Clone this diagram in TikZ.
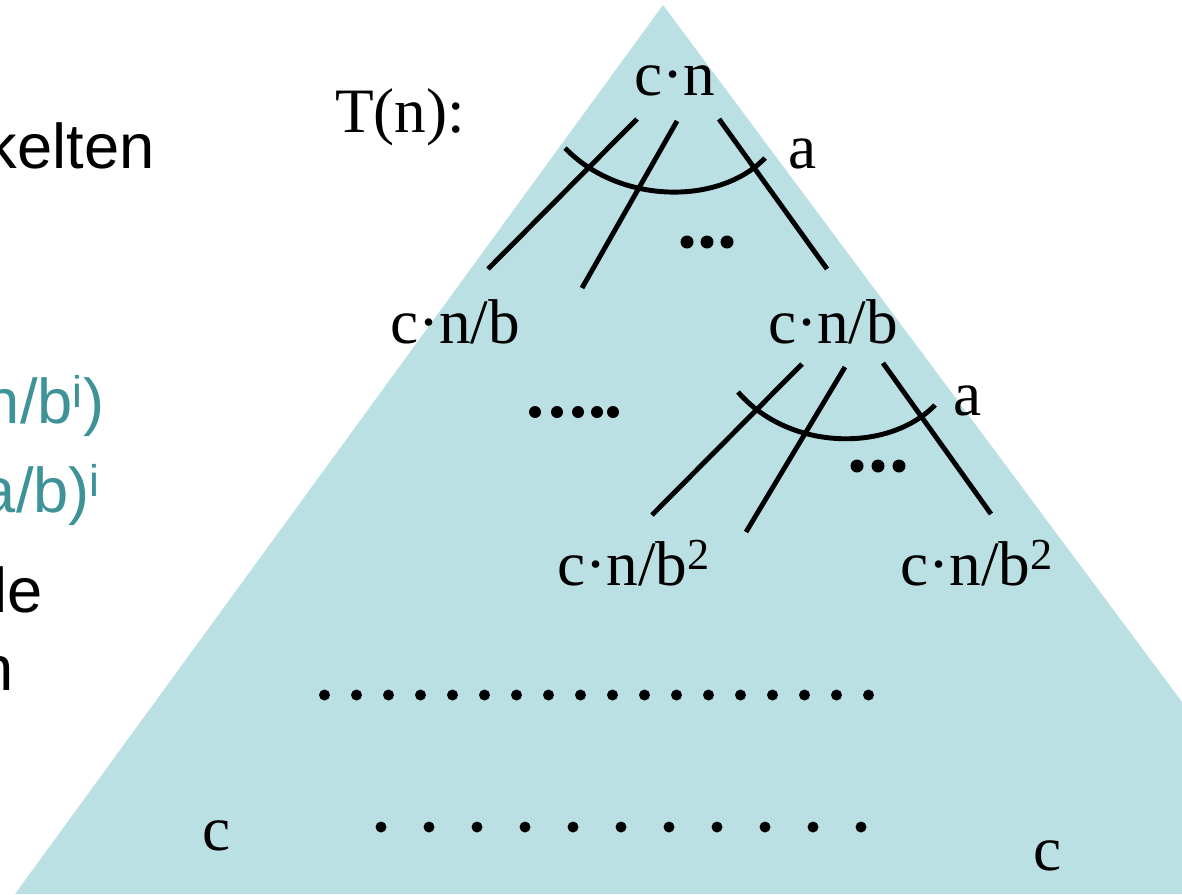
\documentclass[tikz,border=0pt]{standalone}
\usepackage{fontspec}
\setmainfont{Liberation Serif}
\setsansfont{Liberation Sans}
\usetikzlibrary{positioning}
\definecolor{paleblue}{HTML}{BBE0E3}
\definecolor{deepteal}{HTML}{3E9398}

\begin{document}
\begin{tikzpicture}[
    x=0.02cm, y=-0.02cm,
    lbl/.style={font=\fontsize{36}{40}\selectfont, inner sep=0pt, anchor=base},
    side/.style={font=\sffamily\fontsize{36}{40}\selectfont, inner sep=0pt, anchor=base east},
    branch/.style={line width=2.8pt},
    bigdot/.style={fill=black}
]
\useasboundingbox (0,0) rectangle (1182,894);
\fill[paleblue] (663,5) -- (15,894) -- (1325,894) -- cycle;

% cut-off text on the left
\node[side] (kelten) at (155,168) {kelten};
\node[side, text=deepteal] (nbi) at (105,423) {n/b\textsuperscript{i})};
\node[side, text=deepteal] (abi) at (101,512) {a/b)\textsuperscript{i}};
\node[side] (le) at (43,612) {le};
\node[side] (nn) at (14,690) {n};

% tree labels
\node[lbl] (tn) at (400,132) {T(n):};
\node[lbl] (root) at (675,95) {c·n};
\node[lbl] (a1) at (803,168) {a};
\node[lbl] (lvl1L) at (455,343) {c·n/b};
\node[lbl] (lvl1R) at (833,343) {c·n/b};
\node[lbl] (a2) at (968,415) {a};
\node[lbl] (lvl2L) at (634,585) {c·n/b\textsuperscript{2}};
\node[lbl] (lvl2R) at (977,585) {c·n/b\textsuperscript{2}};
\node[lbl] (leafL) at (217,850) {c};
\node[lbl] (leafR) at (1048,870) {c};

% branches below root
\coordinate (r1s) at (637,119); \coordinate (r1e) at (488,269);
\coordinate (r2s) at (677,121); \coordinate (r2e) at (582,288);
\coordinate (r3s) at (719,119); \coordinate (r3e) at (827,269);
\coordinate (arcAs) at (565,148); \coordinate (arcAe) at (765,158);
\draw[branch] (r1s) -- (r1e);
\draw[branch] (r2s) -- (r2e);
\draw[branch] (r3s) -- (r3e);
\draw[branch] (arcAs) .. controls (620,205) and (720,205) .. (arcAe);

% branches below right child
\coordinate (s1s) at (802,364); \coordinate (s1e) at (652,515);
\coordinate (s2s) at (845,367); \coordinate (s2e) at (746,532);
\coordinate (s3s) at (883,363); \coordinate (s3e) at (991,514);
\coordinate (arcBs) at (738,392); \coordinate (arcBe) at (935,405);
\draw[branch] (s1s) -- (s1e);
\draw[branch] (s2s) -- (s2e);
\draw[branch] (s3s) -- (s3e);
\draw[branch] (arcBs) .. controls (790,452) and (890,452) .. (arcBe);

% dots
\foreach \x in {687,707,727} \fill[bigdot] (\x,242) circle[radius=0.13cm];
\foreach \x in {857,878,899} \fill[bigdot] (\x,466) circle[radius=0.13cm];
\foreach \x in {535,557,578,597,613} \fill[bigdot] (\x,412) circle[radius=0.12cm];
\foreach \i in {0,...,17} \fill[bigdot] (324.5+32*\i,695) circle[radius=0.11cm];
\foreach \i in {0,...,10} \fill[bigdot] (381+48*\i,827) circle[radius=0.11cm];
\end{tikzpicture}
\end{document}
